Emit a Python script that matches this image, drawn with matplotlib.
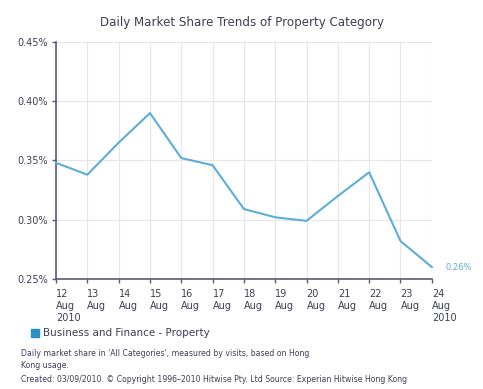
import matplotlib.pyplot as plt
from matplotlib.patches import Rectangle

days = ['12\nAug\n2010', '13\nAug', '14\nAug', '15\nAug', '16\nAug', '17\nAug', '18\nAug',
        '19\nAug', '20\nAug', '21\nAug', '22\nAug', '23\nAug', '24\nAug\n2010']
share = [0.348, 0.338, 0.365, 0.390, 0.352, 0.346, 0.309, 0.302, 0.299, 0.320, 0.340, 0.282, 0.260]
yticks = [0.25, 0.30, 0.35, 0.40, 0.45]

line_col = '#5aaed8'
txt_col = '#3e3e55'
axis_col = '#5a5a78'

fig = plt.figure(figsize=(4.83, 3.89), dpi=100)
ax = fig.add_axes([0.116, 0.283, 0.778, 0.609])

x = list(range(len(days)))
ax.plot(x, share, color=line_col, lw=1.5, zorder=3, clip_on=False)
ax.set_xlim(0, len(days) - 1)
ax.set_ylim(0.25, 0.45)
ax.set_yticks(yticks)
ax.set_yticklabels([f'{v:.2f}%' for v in yticks], fontsize=7, color=txt_col)
ax.set_xticks(x)
ax.set_xticklabels(days, fontsize=7, color=txt_col, ha='left', linespacing=1.25)
ax.grid(True, color='#e6e6e6', lw=0.8)
ax.set_axisbelow(True)
for s in ['top', 'right']:
    ax.spines[s].set_visible(False)
for s in ['left', 'bottom']:
    ax.spines[s].set_color(axis_col)
    ax.spines[s].set_linewidth(1.2)
ax.tick_params(axis='both', length=3, width=1, color=axis_col, pad=3)
ax.tick_params(axis='x', pad=4)

ax.annotate(f'{share[-1]:.2f}%', (x[-1], share[-1]), xytext=(10, 0), textcoords='offset points',
            fontsize=6, color=line_col, va='center', annotation_clip=False)

fig.text(0.5, 0.943, 'Daily Market Share Trends of Property Category', ha='center',
         va='center', fontsize=8.6, color=txt_col)

fig.patches.append(Rectangle((31 / 483, 1 - 337 / 389), 8 / 483, 8 / 389,
                             transform=fig.transFigure, color='#2a8fc8'))
fig.text(43 / 483, 1 - 333 / 389, 'Business and Finance - Property', fontsize=7.5,
         color=txt_col, va='center')
notes = ["Daily market share in 'All Categories', measured by visits, based on Hong",
         'Kong usage.',
         'Created: 03/09/2010. \u00a9 Copyright 1996\u20132010 Hitwise Pty. Ltd Source: Experian Hitwise Hong Kong']
for i, n in enumerate(notes):
    fig.text(21 / 483, 1 - (353 + i * 13) / 389, n, fontsize=5.6, color=txt_col, va='center')

fig.savefig('out.png', dpi=100, facecolor='white')
